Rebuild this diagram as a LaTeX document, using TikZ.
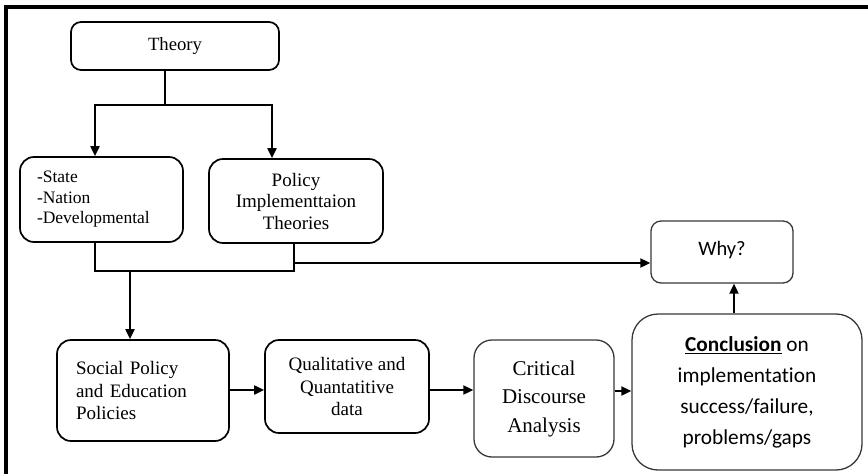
\documentclass[tikz,border=0pt]{standalone}
\usepackage{fontspec}
\setmainfont{Liberation Serif}
\newfontfamily\calibrilike[RawFeature=-liga]{Carlito}
\usetikzlibrary{arrows.meta}

\tikzset{
  box/.style={draw=black, line width=1.7pt, rounded corners=14pt, align=center,
    inner sep=0pt, font=\fontsize{19}{22.5}\selectfont},
  softbox/.style={box, draw=black!78, line width=1.3pt},
  link/.style={line width=1.9pt, draw=black},
  arrow/.style={link, -{Triangle[length=10pt,width=9pt]}},
}

\begin{document}
\begin{tikzpicture}[x=1pt, y=-1pt]
\useasboundingbox (0,0) rectangle (868,474);

% outer frame (top and left edges)
\draw[line width=4pt] (6,476) -- (6,7) -- (870,7);

% boxes
\node[box, rounded corners=10pt, minimum width=208pt, minimum height=48pt,
      font=\fontsize{18.7}{22}\selectfont] (theory) at (175,46) {Theory};
\node[box, minimum width=163pt, minimum height=85pt, text width=129pt, align=left,
      font=\fontsize{17.5}{20.5}\selectfont] (state) at (101.5,199.5)
      {-State\\-Nation\\-Developmental};
\node[box, minimum width=174pt, minimum height=84pt,
      font=\fontsize{19}{21.5}\selectfont] (pit) at (296,201)
      {Policy\\Implementtaion\\Theories};
\node[box, minimum width=172pt, minimum height=101pt, text width=134pt, align=left] (social) at (143,390.5)
      {Social Policy\\and Education\\Policies};
\node[box, minimum width=164pt, minimum height=93pt] (qual) at (347,386.5)
      {Qualitative and\\Quantatitive\\data};
\node[softbox, rounded corners=18pt, minimum width=140pt, minimum height=117pt,
      font=\fontsize{21}{28.5}\selectfont] (cda) at (544,398.5)
      {Critical\\Discourse\\Analysis};
\node[softbox, rounded corners=26pt, minimum width=230pt, minimum height=156pt,
      font=\calibrilike\fontsize{21.3}{31}\selectfont] (concl) at (747,392)
      {\underline{\textbf{Conclusion}} on\\implementation\\success/failure,\\problems/gaps};
\node[softbox, rounded corners=10pt, minimum width=142pt, minimum height=62pt,
      font=\calibrilike\fontsize{20.5}{24}\selectfont] (why) at (722,252)
      {\raisebox{7pt}{Why?}};

% junction points
\coordinate (split) at (165,105);
\coordinate (splitL) at (95,105);
\coordinate (splitR) at (272,105);
\coordinate (merge) at (95,271);
\coordinate (mergeR) at (294,271);
\coordinate (drop) at (130,271);
\coordinate (tap) at (294,263);

% theory branches
\draw[link] (theory.south -| split) -- (split);
\draw[arrow] (split) -- (splitL) -- (state.north -| splitL);
\draw[arrow] (split) -- (splitR) -- (pit.north -| splitR);

% theories merge into policy analysis
\draw[link] (state.south -| merge) -- (merge) -- (mergeR) -- (pit.south -| mergeR);
\draw[arrow] (drop) -- (social.north -| drop);
\draw[arrow] (tap) -- (tap -| why.west);

% main sequence
\draw[arrow] (social.east |- 0,390) -- (qual.west |- 0,390);
\draw[arrow] (qual.east |- 0,390) -- (cda.west |- 0,390);
\draw[arrow] (cda.east |- 0,391) -- (concl.west |- 0,391);
\draw[arrow] (concl.north -| 734,0) -- (why.south -| 734,0);
\end{tikzpicture}
\end{document}
